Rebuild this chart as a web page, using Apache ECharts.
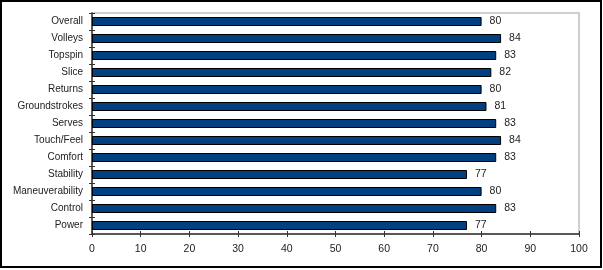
<!DOCTYPE html>
<html><head><meta charset="utf-8">
<script src="https://cdn.jsdelivr.net/npm/echarts@6/dist/echarts.min.js"></script>
<style>html,body{margin:0;padding:0;background:#fff}#c{width:603px;height:270px}</style>
</head><body><div id="c"></div>
<script>
const categories = ["Overall","Volleys","Topspin","Slice","Returns","Groundstrokes","Serves","Touch/Feel","Comfort","Stability","Maneuverability","Control","Power"];
const values = [80,84,83,82,80,81,83,84,83,77,80,83,77];
const xTicks = [0,10,20,30,40,50,60,70,80,90,100];

const cats = categories.slice().reverse();
const vals = values.slice().reverse();
const font = "Liberation Sans, Arial, sans-serif";
const chart = echarts.init(document.getElementById('c'), null, {renderer:'canvas'});
chart.setOption({
  animation:false,
  graphic:[{type:'rect',shape:{x:1,y:1,width:600,height:266},style:{fill:'none',stroke:'#000',lineWidth:2},z:100}],
  grid:{left:92,right:24,top:13,bottom:36,show:true,borderColor:'#c0c0c0',borderWidth:1.5},
  xAxis:[{type:'value',min:xTicks[0],max:xTicks[xTicks.length-1],interval:10,
    axisLine:{show:true,lineStyle:{color:'#333',width:1.5}},
    axisTick:{show:true,length:3,lineStyle:{color:'#333'}},
    axisLabel:{color:'#222',fontFamily:font,fontSize:10.5,margin:10},
    splitLine:{show:false}},
   {type:'value',position:'bottom',min:0,max:100,interval:10,
    axisLine:{show:false},axisTick:{show:true,inside:true,length:3,lineStyle:{color:'#333'}},
    axisLabel:{show:false},splitLine:{show:false}}],
  yAxis:[{type:'category',data:cats,
    axisLine:{show:true,lineStyle:{color:'#333',width:1.5}},
    axisTick:{show:true,length:3,lineStyle:{color:'#333'}},
    axisLabel:{color:'#222',fontFamily:font,fontSize:10,margin:9}},
   {type:'category',data:cats,position:'left',
    axisLine:{show:false},axisTick:{show:true,inside:true,length:3,lineStyle:{color:'#333'}},
    axisLabel:{show:false}}],
  series:[{type:'bar',data:vals,barWidth:9,
    itemStyle:{color:'#003f80',borderColor:'#000',borderWidth:1},
    label:{show:true,position:'right',distance:8,color:'#222',fontFamily:font,fontSize:10.5}}]
});
</script></body></html>
